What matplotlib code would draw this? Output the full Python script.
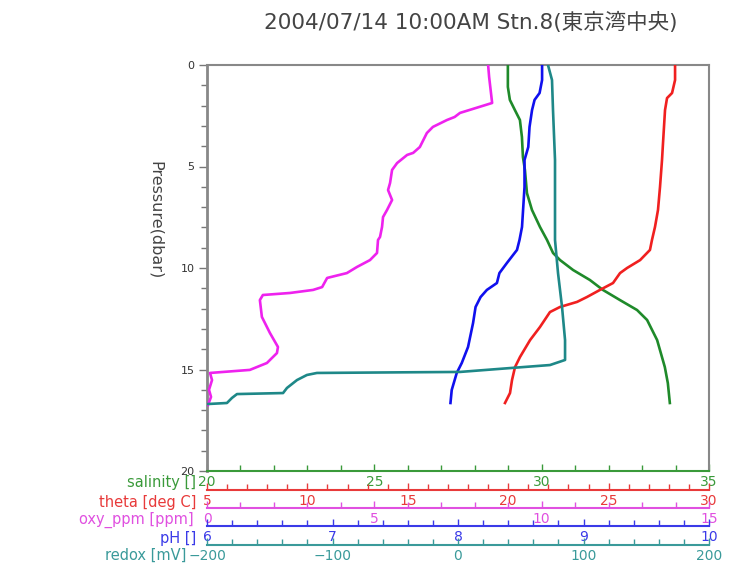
import matplotlib
matplotlib.use("Agg")
import matplotlib.pyplot as plt
from matplotlib.ticker import MultipleLocator
import numpy as np

title = "2004/07/14 10:00AM Stn.8(東京湾中央)"

sal_p = [0, 1.08, 1.72, 2.22, 2.71, 3.55, 4.53, 5.17, 6.31, 7.14, 7.98, 8.62, 9.26, 9.61,
         10.10, 10.59, 11.08, 11.58, 12.07, 12.56, 13.55, 14.88, 15.67, 16.65]
sal_v = [28.99, 28.99, 29.05, 29.20, 29.35, 29.41, 29.44, 29.50, 29.56, 29.71, 29.95, 30.16,
         30.34, 30.55, 30.94, 31.44, 31.83, 32.34, 32.85, 33.15, 33.45, 33.68, 33.77, 33.83]

theta_p = [0, 0.74, 1.38, 1.63, 2.22, 3.84, 4.68, 6.01, 7.14, 7.98, 8.62, 9.11, 9.61, 10.0,
           10.25, 10.74, 11.08, 11.43, 11.67, 11.92, 12.17, 12.91, 13.55, 14.38, 14.88,
           15.52, 16.16, 16.65]
theta_v = [28.31, 28.31, 28.16, 27.91, 27.81, 27.71, 27.66, 27.56, 27.46, 27.31, 27.16,
           27.06, 26.57, 25.92, 25.57, 25.22, 24.57, 23.92, 23.43, 22.58, 22.08, 21.58,
           21.09, 20.59, 20.34, 20.19, 20.09, 19.84]

oxy_p = [0, 0.59, 1.87, 2.36, 2.56, 2.71, 3.05, 3.35, 4.04, 4.33, 4.43, 4.83, 5.17, 5.81,
         6.16, 6.65, 7.14, 7.49, 7.98, 8.47, 8.62, 9.26, 9.61, 9.95, 10.25, 10.49, 10.94,
         11.08, 11.23, 11.33, 11.58, 12.41, 13.20, 13.89, 14.19, 14.68, 15.02, 15.17,
         15.52, 16.0, 16.35, 16.75]
oxy_v = [8.40, 8.43, 8.52, 7.56, 7.40, 7.17, 6.75, 6.57, 6.36, 6.16, 5.98, 5.68, 5.53, 5.47,
         5.41, 5.53, 5.38, 5.26, 5.23, 5.17, 5.11, 5.08, 4.87, 4.48, 4.18, 3.59, 3.44,
         3.17, 2.48, 1.67, 1.58, 1.64, 1.88, 2.12, 2.09, 1.79, 1.28, 0.09, 0.15, 0.06,
         0.12, 0.03]

ph_p = [0, 0.74, 1.38, 1.72, 2.22, 3.05, 4.04, 4.68, 6.01, 7.0, 7.98, 8.62, 9.11, 9.75,
        10.25, 10.74, 11.08, 11.43, 11.92, 12.71, 13.89, 14.68, 15.17, 16.01, 16.65]
ph_v = [8.67, 8.67, 8.65, 8.61, 8.59, 8.57, 8.56, 8.53, 8.53, 8.52, 8.51, 8.49, 8.47, 8.39,
        8.33, 8.31, 8.23, 8.18, 8.14, 8.12, 8.08, 8.03, 7.99, 7.95, 7.94]

redox_p = [0, 0.74, 2.22, 4.68, 8.62, 10.25, 11.92, 13.55, 14.53, 14.78, 14.93, 15.12,
           15.14, 15.17, 15.27, 15.52, 15.91, 16.16, 16.21, 16.40, 16.65, 16.70]
redox_v = [71.7, 74.9, 75.7, 77.3, 77.3, 79.7, 82.9, 85.3, 85.3, 73.3, 41.4, 1.6, -46.2,
           -112.4, -120.4, -128.3, -136.3, -139.4, -176.1, -180.1, -184.1, -199.2]

# axis definitions: name, limits, major, minor, axis colour, line colour, x, p
axes_def = [
    ("salinity []",    (20, 35),    5,   1,   "#3a9a3a", "#1f8a2a", sal_v, sal_p),
    ("theta [deg C]",  (5, 30),     5,   1,   "#e83a3a", "#f02020", theta_v, theta_p),
    ("oxy_ppm [ppm]",  (0, 15),     5,   1,   "#e050e0", "#ee22ee", oxy_v, oxy_p),
    ("pH []",          (6, 10),     1,   0.2, "#3a3ae8", "#1010ee", ph_v, ph_p),
    ("redox [mV]",     (-200, 200), 100, 20,  "#3a9a9a", "#1e8888", redox_v, redox_p),
]

W, H = 751, 564
fig = plt.figure(figsize=(W / 100, H / 100), dpi=100)
L, R, T, B = 207, 709, 65, 471
ax = fig.add_axes([L / W, 1 - B / H, (R - L) / W, (B - T) / H])

ax.set_ylim(20, 0)
ax.yaxis.set_major_locator(MultipleLocator(5))
ax.yaxis.set_minor_locator(MultipleLocator(1))
ax.tick_params(axis="y", which="major", direction="out", length=6, width=1,
               color="#777777", labelsize=8, labelcolor="#333333", pad=3)
ax.tick_params(axis="y", which="minor", direction="out", length=4, width=1,
               color="#777777")
for s in ("left", "top", "right"):
    ax.spines[s].set_color("#888888")
    ax.spines[s].set_linewidth(1.5)
ax.spines["left"].set_linewidth(2)

line_offsets_px = [0, 19, 37, 55, 74]
label_y_px = [483, 502, 520, 538, 555]
label_x_px = [196, 196, 194, 196, 186]

for i, (name, lim, maj, mnr, axcol, lcol, xv, pv) in enumerate(axes_def):
    if i == 0:
        a = ax
    else:
        a = ax.twiny()
        a.xaxis.set_ticks_position("bottom")
        a.xaxis.set_label_position("bottom")
        a.spines["bottom"].set_position(("outward", line_offsets_px[i] * 0.72))
        for s in ("left", "top", "right"):
            a.spines[s].set_visible(False)
        a.patch.set_visible(False)
    a.set_xlim(*lim)
    a.xaxis.set_major_locator(MultipleLocator(maj))
    a.xaxis.set_minor_locator(MultipleLocator(mnr))
    a.spines["bottom"].set_color(axcol)
    a.spines["bottom"].set_linewidth(1.5)
    a.tick_params(axis="x", which="major", direction="in", length=5, width=1,
                  color=axcol, labelcolor=axcol, labelsize=10, pad=3)
    a.tick_params(axis="x", which="minor", direction="in", length=4, width=1,
                  color=axcol)
    a.plot(xv, pv, color=lcol, lw=1.9, solid_joinstyle="round", zorder=3)
    fig.text(label_x_px[i] / W, 1 - label_y_px[i] / H, name, ha="right", va="center",
             color=axcol, fontsize=10.5)

ax.set_ylim(20, 0)

fig.text(155 / W, 1 - 220 / H, "Pressure(dbar)", rotation=-90, ha="center", va="center",
         fontsize=11.5, color="#444444")
fig.text(471 / W, 1 - 22 / H, title, ha="center", va="center", fontsize=15.5,
         color="#444444", family=["DejaVu Sans", "Noto Sans CJK JP"])

fig.savefig("out.png", dpi=100)
